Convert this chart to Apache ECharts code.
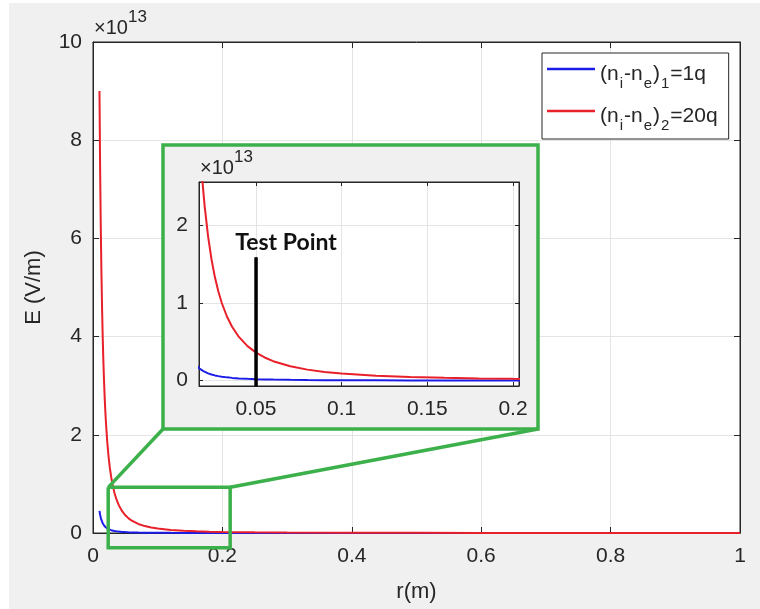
<!DOCTYPE html>
<html>
<head>
<meta charset="utf-8">
<script src="https://cdn.jsdelivr.net/npm/echarts@6/dist/echarts.min.js"></script>
<style>
  html, body { margin: 0; padding: 0; background: #f0f0f0; }
  #chart { width: 760px; height: 609px; }
</style>
</head>
<body>
<div id="chart"></div>
<script>
// Radial distance samples, r (m)
const radius = [
  0.010, 0.011, 0.012, 0.013, 0.014, 0.015, 0.016, 0.017, 0.018, 0.019,
  0.020, 0.022, 0.024, 0.026, 0.028, 0.030, 0.033, 0.036, 0.040, 0.045,
  0.050, 0.055, 0.060, 0.070, 0.080, 0.090, 0.100, 0.120, 0.140, 0.160,
  0.180, 0.200, 0.250, 0.300, 0.400, 0.500, 0.600, 0.800, 1.000
];
// Field for (ni-ne)1 = 1q, E in units of 1e13 V/m
const fieldLow = [
  0.450, 0.372, 0.3125, 0.266, 0.2296, 0.200, 0.1758, 0.1557, 0.1389, 0.1247,
  0.1125, 0.0930, 0.0781, 0.0666, 0.0574, 0.0500, 0.0413, 0.0347, 0.0281, 0.0222,
  0.0180, 0.0149, 0.0125, 0.0092, 0.0070, 0.0056, 0.0045, 0.0031, 0.0023, 0.0018,
  0.0014, 0.0011, 0.0007, 0.0005, 0.0003, 0.0002, 0.0001, 0.0001, 0.0000
];
// Field for (ni-ne)2 = 20q, E in units of 1e13 V/m
const fieldHigh = [
  9.000, 7.438, 6.250, 5.325, 4.592, 4.000, 3.516, 3.114, 2.778, 2.493,
  2.250, 1.860, 1.5625, 1.331, 1.148, 1.000, 0.826, 0.694, 0.5625, 0.444,
  0.360, 0.2975, 0.250, 0.184, 0.141, 0.111, 0.090, 0.0625, 0.0459, 0.0352,
  0.0278, 0.0225, 0.0144, 0.0100, 0.0056, 0.0036, 0.0025, 0.0014, 0.0009
];
const seriesNames = ['low', 'high'];
const legendLabels = {
  low:  '{m|(n}{s|i}{m|-n}{s|e}{m|)}{s|1}{m|=1q}',
  high: '{m|(n}{s|i}{m|-n}{s|e}{m|)}{s|2}{m|=20q}'
};

// Axis ranges and tick steps
const mainR = [0, 1], mainRStep = 0.2;
const mainE = [0, 10], mainEStep = 2;
const insetR = [0.0167, 0.2035], insetRStep = 0.05;
const insetE = [-0.07, 2.56], insetEStep = 1;
const exponentLabel = '{b|\u00d710}{sup|13}';

// Magnified region and the marked test point
const zoomBoxR = [0.0235, 0.212];
const zoomBoxE = [-0.30, 0.93];
const testPointR = 0.05;
const testPointTop = 1.59;

const AXIS = '#262626';
const GRIDLINE = '#e4e4e4';
const BLUE = '#1c1ce8';
const RED = '#e8202a';
const GREEN = '#3cb04a';
const FONT = '"Liberation Sans", Arial, sans-serif';

const pair = (xs, ys) => xs.map((x, i) => [x, ys[i]]);
const lowData = pair(radius, fieldLow);
const highData = pair(radius, fieldHigh);

const expRich = {
  b: { fontSize: 20, lineHeight: 20, padding: [9, 0, 0, 0], verticalAlign: 'top',
       color: AXIS, fontFamily: FONT, fontWeight: 'normal' },
  sup: { fontSize: 17, lineHeight: 17, verticalAlign: 'top',
         color: AXIS, fontFamily: FONT, fontWeight: 'normal' }
};

function axisPair(gridIndex, range, step, isX, opts) {
  const small = opts.small;
  const base = {
    type: 'value', gridIndex, min: range[0], max: range[1], z: opts.z,
    axisLine: { show: true, onZero: false, lineStyle: { color: AXIS, width: 1 } },
    axisTick: { show: true, inside: true, length: small ? 4 : 6, lineStyle: { color: AXIS } }
  };
  if (opts.exact) base.interval = step; else { base.minInterval = step; base.maxInterval = step; }
  const main = Object.assign({}, base, {
    position: isX ? 'bottom' : 'left',
    axisLabel: {
      color: AXIS, fontSize: 21, fontFamily: FONT, margin: isX ? 13 : 11,
      showMinLabel: opts.exact ? true : false, showMaxLabel: opts.exact ? true : false
    },
    splitLine: { show: true, lineStyle: { color: GRIDLINE, width: 1 } }
  }, opts.name || {});
  const mirror = Object.assign({}, base, {
    position: isX ? 'top' : 'right',
    axisLabel: { show: false },
    splitLine: { show: false }
  });
  return [main, mirror];
}

const mainX = axisPair(0, mainR, mainRStep, true, {
  exact: true, z: 0,
  name: { name: 'r(m)', nameLocation: 'middle', nameGap: 48,
          nameTextStyle: { fontSize: 22, color: AXIS, fontFamily: FONT } }
});
const mainY = axisPair(0, mainE, mainEStep, false, {
  exact: true, z: 0,
  name: { name: 'E (V/m)', nameLocation: 'middle', nameGap: 48,
          nameTextStyle: { fontSize: 22, color: AXIS, fontFamily: FONT } }
});
const insetX = axisPair(1, insetR, insetRStep, true, { exact: false, small: true, z: 7 });
const insetY = axisPair(1, insetE, insetEStep, false, { exact: false, small: true, z: 7 });

const legendRich = {
  m: { fontSize: 21, lineHeight: 20, padding: [5, 0, 0, 0], verticalAlign: 'top', color: AXIS, fontFamily: FONT },
  s: { fontSize: 15, lineHeight: 15, padding: [17, 1, 0, 1], verticalAlign: 'top', color: AXIS, fontFamily: FONT }
};

const option = {
  animation: false,
  backgroundColor: '#f0f0f0',
  title: [
    { text: exponentLabel, left: 94, top: 9, padding: 0,
      textStyle: { fontWeight: 'normal', rich: expRich } },
    { text: exponentLabel, left: 200, top: 149, padding: 0, z: 7,
      textStyle: { fontWeight: 'normal', rich: expRich } }
  ],
  grid: [
    { left: 93, top: 42, width: 647, height: 491, show: true, backgroundColor: '#ffffff',
      borderColor: AXIS, borderWidth: 1, z: 0 },
    { left: 199, top: 182, width: 320, height: 204, show: true, backgroundColor: '#ffffff',
      borderColor: AXIS, borderWidth: 1, z: 6 }
  ],
  xAxis: [mainX[0], mainX[1], insetX[0], insetX[1]],
  yAxis: [mainY[0], mainY[1], insetY[0], insetY[1]],
  legend: {
    data: seriesNames.map((n) => ({ name: n, icon: 'rect' })),
    orient: 'vertical', left: 542, top: 53,
    itemWidth: 48, itemHeight: 2.5, itemGap: 10, padding: [6, 11, 6, 5],
    backgroundColor: '#ffffff', borderColor: AXIS, borderWidth: 1, z: 20,
    formatter: (name) => legendLabels[name],
    textStyle: { rich: legendRich }
  },
  series: [
    { type: 'line', name: 'low', data: lowData, xAxisIndex: 0, yAxisIndex: 0,
      symbol: 'none', lineStyle: { color: BLUE, width: 2 }, itemStyle: { color: BLUE }, z: 2 },
    { type: 'line', name: 'high', data: highData, xAxisIndex: 0, yAxisIndex: 0,
      symbol: 'none', lineStyle: { color: RED, width: 2 }, itemStyle: { color: RED }, z: 2 },
    { type: 'line', name: 'zoomBox', xAxisIndex: 0, yAxisIndex: 0, clip: false, silent: true,
      data: [[zoomBoxR[0], zoomBoxE[1]], [zoomBoxR[1], zoomBoxE[1]], [zoomBoxR[1], zoomBoxE[0]],
             [zoomBoxR[0], zoomBoxE[0]], [zoomBoxR[0], zoomBoxE[1]]],
      symbol: 'none', lineStyle: { color: GREEN, width: 3.5, join: 'miter' }, z: 4 },
    { type: 'line', name: 'low', data: lowData, xAxisIndex: 2, yAxisIndex: 2,
      symbol: 'none', lineStyle: { color: BLUE, width: 2 }, itemStyle: { color: BLUE }, z: 8 },
    { type: 'line', name: 'high', data: highData, xAxisIndex: 2, yAxisIndex: 2,
      symbol: 'none', lineStyle: { color: RED, width: 2 }, itemStyle: { color: RED }, z: 8 },
    { type: 'line', name: 'testPoint', xAxisIndex: 2, yAxisIndex: 2, silent: true,
      symbol: 'circle', symbolSize: 1, showSymbol: true, itemStyle: { color: '#000000' },
      data: [
        [testPointR, insetE[0]],
        { value: [testPointR, testPointTop],
          label: { show: true, position: 'top', distance: 3, offset: [30, 0],
                   formatter: 'Test Point', fontFamily: 'Lato, "Open Sans", sans-serif',
                   fontWeight: 'bold', fontSize: 23, color: '#111111' } }
      ],
      lineStyle: { color: '#000000', width: 3.5 }, z: 9 }
  ]
};

const chart = echarts.init(document.getElementById('chart'));
chart.setOption(option);

// Inset frame and the two lines linking it to the magnified region
const frame = { x: 163, y: 145, width: 375, height: 284 };
const cornerL = chart.convertToPixel({ gridIndex: 0 }, [zoomBoxR[0], zoomBoxE[1]]);
const cornerR = chart.convertToPixel({ gridIndex: 0 }, [zoomBoxR[1], zoomBoxE[1]]);
const greenStroke = { stroke: GREEN, lineWidth: 3.5, fill: null };
chart.setOption({
  graphic: [
    { type: 'rect', shape: { x: 0, y: 0, width: 9, height: 609 }, style: { fill: '#ffffff' }, z: 0, silent: true },
    { type: 'rect', shape: { x: 0, y: 0, width: 760, height: 3 }, style: { fill: '#ffffff' }, z: 0, silent: true },
    { type: 'rect', shape: frame, style: { fill: '#f0f0f0', stroke: GREEN, lineWidth: 3.5 }, z: 5, silent: true },
    { type: 'line', shape: { x1: cornerL[0], y1: cornerL[1], x2: frame.x, y2: frame.y + frame.height },
      style: greenStroke, z: 5, silent: true },
    { type: 'line', shape: { x1: cornerR[0], y1: cornerR[1], x2: frame.x + frame.width, y2: frame.y + frame.height },
      style: greenStroke, z: 5, silent: true }
  ]
});
</script>
</body>
</html>
